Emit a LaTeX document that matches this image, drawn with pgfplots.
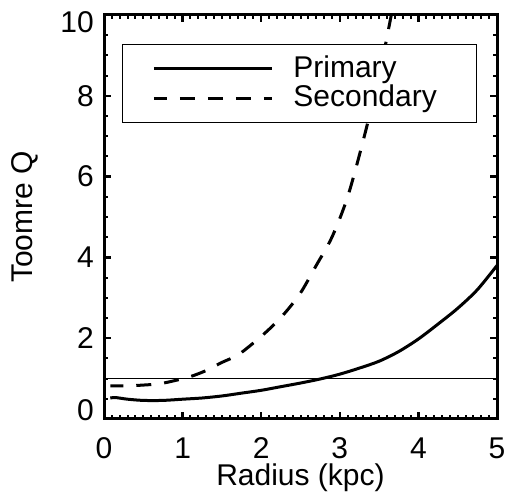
\documentclass[border=0pt]{standalone}
\usepackage{fontspec}
\setmainfont{Liberation Sans}
\usepackage{pgfplots}
\pgfplotsset{compat=1.18}
\begin{document}
\fontsize{30}{36}\selectfont
\begin{tikzpicture}
\useasboundingbox (0,0) rectangle (509pt,497pt);
\begin{axis}[
  at={(104pt,78pt)}, anchor=south west,
  scale only axis, width=393pt, height=404pt,
  xmin=0, xmax=5, ymin=0, ymax=10,
  xtick={0,1,2,3,4,5}, ytick={0,2,4,6,8,10},
  minor x tick num=9, minor y tick num=3,
  tick align=inside, major tick length=7pt, minor tick length=4pt,
  every major tick/.append style={line width=2.5pt, black},
  every minor tick/.append style={line width=2pt, black},
  axis line style={line width=3pt},
  font=\fontsize{30}{36}\selectfont,
  /pgf/number format/assume math mode=true,
  xticklabel style={anchor=base, yshift=-40pt, inner sep=1pt},
  yticklabel={\ifcase\ticknum\relax\raisebox{9pt}[\height][\depth]{0}\or 2\or 4\or 6\or 8\or\raisebox{-7pt}[\height][\depth]{10}\fi},
  xlabel={Radius (kpc)}, ylabel={Toomre Q},
  every axis x label/.style={at={(axis description cs:0.5,-0.165)}, anchor=base, inner sep=1pt},
  every axis y label/.style={at={(axis description cs:-0.201,0.5)}, anchor=center, rotate=90},
  legend style={at={(axis description cs:0.0458,0.928)}, anchor=north west,
    draw=black, line width=0.8pt, inner xsep=30pt, inner ysep=11pt,
    row sep=3.4pt, font=\fontsize{30}{36}\selectfont,
    nodes={inner sep=0pt}},
  legend cell align=left,
  legend image code/.code={\draw[#1] (0pt,0pt) -- (118pt,0pt);},
]
\addplot[black, line width=1pt, forget plot] coordinates {(0,1) (5,1)};
\addplot[black, line width=3pt, smooth] coordinates {
(0.08,0.52) (0.15,0.53) (0.3,0.49) (0.5,0.46) (0.75,0.46) (1.0,0.49)
(1.25,0.52) (1.5,0.57) (1.75,0.64) (2.0,0.71) (2.25,0.80) (2.5,0.89)
(2.75,0.99) (3.0,1.11) (3.25,1.26) (3.5,1.43) (3.75,1.67) (4.0,1.98)
(4.25,2.35) (4.5,2.74) (4.75,3.2) (5.0,3.8)};
\addlegendentry{\hspace*{20pt}\makebox[153pt][l]{Primary}}
\addplot[black, line width=3pt, dash pattern=on 15pt off 13pt, dash phase=2pt, smooth] coordinates {
(0.08,0.82) (0.3,0.82) (0.5,0.84) (0.7,0.87) (0.9,0.95) (1.1,1.05)
(1.3,1.20) (1.5,1.40) (1.7,1.58) (1.9,1.88) (2.1,2.22) (2.3,2.62)
(2.5,3.12) (2.7,3.80) (2.9,4.50) (3.1,5.50) (3.3,6.91) (3.5,8.5)
(3.66,10.05) (3.7,10.5)};
\addlegendentry{\hspace*{20pt}\makebox[153pt][l]{Secondary}}
\end{axis}
\end{tikzpicture}
\end{document}
